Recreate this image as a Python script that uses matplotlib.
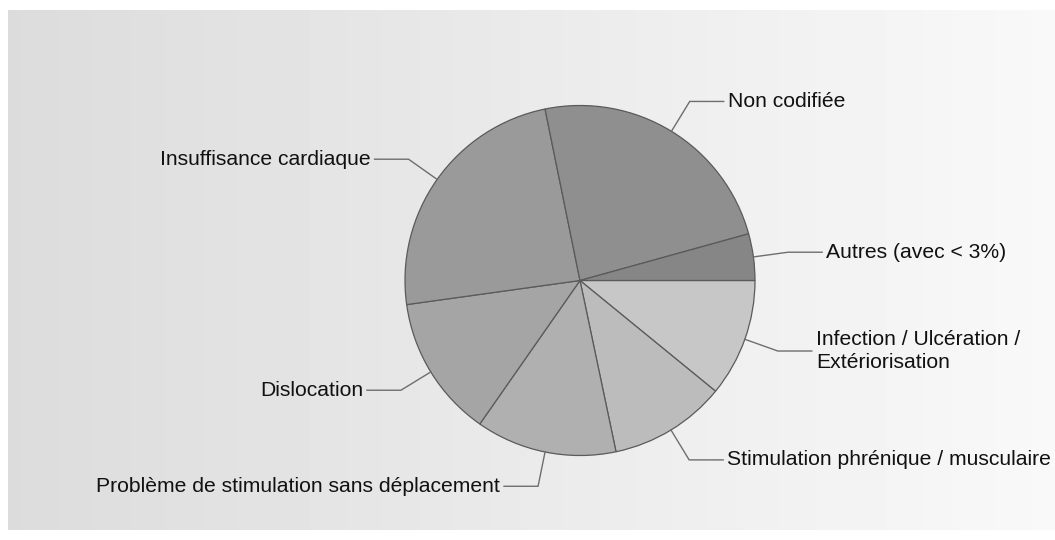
import numpy as np
import matplotlib
matplotlib.use("Agg")
import matplotlib.pyplot as plt

# Slices, clockwise from 3 o'clock
labels = [
    "Infection / Ulcération /\nExtériorisation",
    "Stimulation phrénique / musculaire",
    "Problème de stimulation sans déplacement",
    "Dislocation",
    "Insuffisance cardiaque",
    "Non codifiée",
    "Autres (avec < 3%)",
]
shares = [10.9, 10.8, 13.0, 13.1, 24.0, 23.9, 4.3]
colors = ["#c7c7c7", "#bcbcbc", "#b0b0b0", "#a5a5a5", "#9a9a9a", "#8f8f8f", "#868686"]

W, H = 1055, 540
cx, cy, r = 580, H - 280.5, 175

fig = plt.figure(figsize=(W / 100, H / 100), dpi=100)
fig.patch.set_facecolor("white")
ax = fig.add_axes([0, 0, 1, 1])

# grey-to-white horizontal gradient behind the chart
grad = np.linspace(0.862, 0.975, 256)
grad = np.tile(grad, (2, 1))
ax.imshow(grad, cmap="gray", vmin=0, vmax=1, aspect="auto",
          extent=(8, W, 10, H - 10), zorder=0, interpolation="bicubic")

wedges, _ = ax.pie(shares, colors=colors, startangle=0, counterclock=False,
                   center=(cx, cy), radius=r,
                   wedgeprops=dict(edgecolor="#5a5a5a", linewidth=0.9))
for w in wedges:
    w.set_zorder(2)

ax.set_xlim(0, W)
ax.set_ylim(0, H)
ax.set_aspect("equal")
ax.axis("off")

# leader lines: radial stub, then a horizontal run to the label
for w, lab in zip(wedges, labels):
    mid = np.deg2rad((w.theta1 + w.theta2) / 2)
    c, s = np.cos(mid), np.sin(mid)
    x0, y0 = cx + r * c, cy + r * s
    x1, y1 = cx + (r + 35) * c, cy + (r + 35) * s
    side = 1 if c >= 0 else -1
    x2 = x1 + side * 34
    ax.plot([x0, x1, x2], [y0, y1, y1], color="#6e6e6e", linewidth=1.0,
            zorder=3, solid_joinstyle="miter")
    ax.text(x2 + side * 4, y1, lab, ha="left" if side > 0 else "right",
            va="center", fontsize=15.2, family="Liberation Sans",
            color="#111111", linespacing=1.22, zorder=4)

fig.savefig("out.png", dpi=100, facecolor=fig.get_facecolor())
